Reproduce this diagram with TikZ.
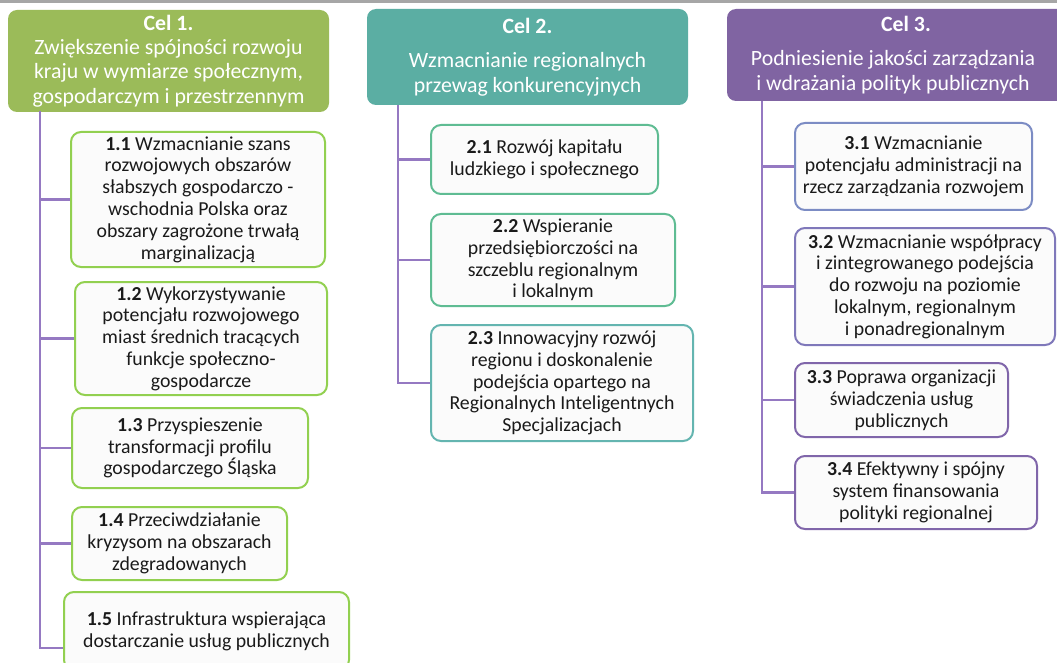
\documentclass[tikz,border=0pt]{standalone}
\usepackage{fontspec}
\setmainfont{Carlito}
\definecolor{hgreen}{HTML}{9BBB59}
\definecolor{hteal}{HTML}{5BAEA3}
\definecolor{hpurple}{HTML}{8064A2}
\definecolor{bgreen}{HTML}{92D050}
\definecolor{bteal}{HTML}{5FBC93}
\definecolor{bteal2}{HTML}{64B5B0}
\definecolor{bblue}{HTML}{7C8CC4}
\definecolor{bviolet}{HTML}{7F78BA}
\definecolor{bpurple}{HTML}{8066AA}
\definecolor{conn}{HTML}{9579C2}
\definecolor{boxfill}{HTML}{FBFBFB}
\definecolor{txt}{HTML}{1A1A1A}
\definecolor{topbar}{HTML}{A6A6A6}
\newcommand\boxfont{\fontsize{19.8}{21.8}\selectfont}
\newcommand\hdrfont{\fontsize{21.8}{24.3}\selectfont}
\tikzset{
  box/.style={draw, rounded corners=10pt, line width=2pt, fill=boxfill,
    align=center, inner sep=0pt, font=\boxfont, text=txt},
  hdr/.style={rounded corners=9pt, align=center, inner sep=0pt,
    text=white, font=\hdrfont},
  link/.style={draw=conn, line width=2.4pt}
}
\begin{document}
\begin{tikzpicture}[x=1pt,y=-1pt]
\useasboundingbox (0,0) rectangle (1057,663);
\fill[white] (0,0) rectangle (1057,663);
\fill[topbar] (0,0) rectangle (1057,2.7);

% headers
\node[hdr, fill=hgreen, minimum width=321pt, minimum height=102pt] (h1) at (168.5,61)
  {\textbf{Cel 1.}\\ Zwiększenie spójności rozwoju\\ kraju w wymiarze społecznym,\\ gospodarczym i przestrzennym};
\node[hdr, fill=hteal, minimum width=321pt, minimum height=96pt] (h2) at (527.5,57)
  {\textbf{Cel 2.}\\[10pt] Wzmacnianie regionalnych\\ przewag konkurencyjnych};
\node[hdr, fill=hpurple, minimum width=358pt, minimum height=92pt] (h3) at (906,55)
  {\textbf{Cel 3.}\\[10pt] \hspace*{-26pt}Podniesienie jakości zarządzania\\ \hspace*{-26pt}i wdrażania polityk publicznych};

% column 1
\node[box, draw=bgreen, minimum width=254pt, minimum height=135pt] (b11) at (198,199.5)
  {\textbf{1.1} Wzmacnianie szans\\ rozwojowych obszarów\\ słabszych gospodarczo -\\ wschodnia Polska oraz\\ obszary zagrożone trwałą\\ marginalizacją};
\node[box, draw=bgreen, minimum width=252pt, minimum height=113pt] (b12) at (201,338.5)
  {\textbf{1.2} Wykorzystywanie\\ potencjału rozwojowego\\ miast średnich tracących\\ funkcje społeczno-\\ gospodarcze};
\node[box, draw=bgreen, minimum width=236pt, minimum height=80pt] (b13) at (190,448)
  {\textbf{1.3} Przyspieszenie\\ transformacji profilu\\ gospodarczego Śląska};
\node[box, draw=bgreen, minimum width=215pt, minimum height=73pt] (b14) at (179.5,543.5)
  {\textbf{1.4} Przeciwdziałanie\\ kryzysom na obszarach\\ zdegradowanych};
\node[box, draw=bgreen, minimum width=285pt, minimum height=78pt] (b15) at (206.5,631)
  {\textbf{1.5} Infrastruktura wspierająca\\ dostarczanie usług publicznych};

% column 2
\node[box, draw=bteal, minimum width=227pt, minimum height=69pt] (b21) at (544.5,159.5)
  {\textbf{2.1} Rozwój kapitału\\ ludzkiego i społecznego};
\node[box, draw=bteal, minimum width=244pt, minimum height=92pt] (b22) at (553,260)
  {\textbf{2.2} Wspieranie\\ przedsiębiorczości na\\ szczeblu regionalnym\\ i lokalnym};
\node[box, draw=bteal2, minimum width=262pt, minimum height=116pt] (b23) at (562,383)
  {\textbf{2.3} Innowacyjny rozwój\\ regionu i doskonalenie\\ podejścia opartego na\\ Regionalnych Inteligentnych\\ Specjalizacjach};

% column 3
\node[box, draw=bblue, minimum width=237pt, minimum height=87pt] (b31) at (913.5,166.5)
  {\textbf{3.1} Wzmacnianie\\ potencjału administracji na\\ rzecz zarządzania rozwojem};
\node[box, draw=bviolet, minimum width=260pt, minimum height=117pt] (b32) at (925,286.5)
  {\textbf{3.2} Wzmacnianie współpracy\\ i zintegrowanego podejścia\\ do rozwoju na poziomie\\ lokalnym, regionalnym\\ i ponadregionalnym};
\node[box, draw=bpurple, minimum width=213pt, minimum height=74pt] (b33) at (901.5,400)
  {\textbf{3.3} Poprawa organizacji\\ świadczenia usług\\ publicznych};
\node[box, draw=bpurple, minimum width=242pt, minimum height=73pt] (b34) at (916,492.5)
  {\textbf{3.4} Efektywny i spójny\\ system finansowania\\ polityki regionalnej};

% trunks
\coordinate (t1) at (40,111);
\coordinate (t2) at (398,105);
\coordinate (t3) at (762,101);

% connectors column 1
\path[link] (t1) |- ([yshift=-17pt]b15.west);
\path[link] (t1 |- b11.west) -- (b11.west);
\path[link] (t1 |- b12.west) -- (b12.west);
\path[link] (t1 |- b13.west) -- (b13.west);
\path[link] (t1 |- b14.west) -- (b14.west);

% connectors column 2
\path[link] (t2) |- (b23.west);
\path[link] (t2 |- b21.west) -- (b21.west);
\path[link] (t2 |- b22.west) -- (b22.west);

% connectors column 3
\path[link] (t3) |- (b34.west);
\path[link] (t3 |- b31.west) -- (b31.west);
\path[link] (t3 |- b32.west) -- (b32.west);
\path[link] (t3 |- b33.west) -- (b33.west);
\end{tikzpicture}
\end{document}
